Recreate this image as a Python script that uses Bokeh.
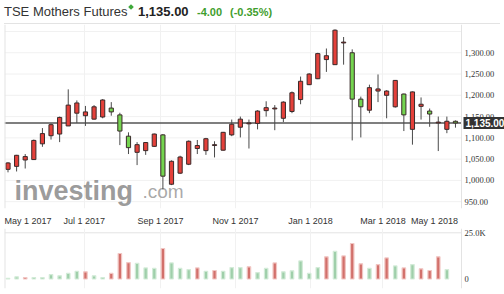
import pandas as pd
from bokeh.plotting import figure
from bokeh.layouts import column
from bokeh.models import (Range1d, FixedTicker, Span, Label, Div, ColumnDataSource)
from bokeh.embed import file_html
from bokeh.resources import INLINE

# ---------------- data ----------------
title = "TSE Mothers Futures"
last_price = "1,135.00"
last_value = 1135
change = "-4.00"
change_pct = "(-0.35%)"

week_dates = [
    "2017-04-30", "2017-05-07", "2017-05-14", "2017-05-21", "2017-05-28",
    "2017-06-04", "2017-06-11", "2017-06-18", "2017-06-25", "2017-07-02",
    "2017-07-09", "2017-07-16", "2017-07-23", "2017-07-30", "2017-08-06",
    "2017-08-13", "2017-08-20", "2017-08-27", "2017-09-03", "2017-09-10",
    "2017-09-17", "2017-09-24", "2017-10-01", "2017-10-08", "2017-10-15",
    "2017-10-22", "2017-10-29", "2017-11-05", "2017-11-12", "2017-11-19",
    "2017-11-26", "2017-12-03", "2017-12-10", "2017-12-17", "2017-12-24",
    "2017-12-31", "2018-01-07", "2018-01-14", "2018-01-21", "2018-01-28",
    "2018-02-04", "2018-02-11", "2018-02-18", "2018-02-25", "2018-03-04",
    "2018-03-11", "2018-03-18", "2018-03-25", "2018-04-01", "2018-04-08",
    "2018-04-15", "2018-04-22", "2018-04-29",
]
open_ = [1026, 1033, 1048, 1049, 1086, 1105, 1109, 1128, 1158, 1152,
         1144, 1149, 1170, 1154, 1104, 1066, 1070, 1080, 1107, 991,
         1017, 1038, 1075, 1070, 1082, 1071, 1107, 1125, 1133, 1134,
         1164, 1168, 1146, 1162, 1190, 1225, 1239, 1284, 1272, 1323,
         1300, 1191, 1165, 1210, 1200, 1173, 1203, 1120, 1174, 1163,
         1135, 1120, 1139]
high = [1043, 1060, 1062, 1096, 1123, 1134, 1150, 1214, 1188, 1175,
        1177, 1191, 1184, 1159, 1113, 1090, 1090, 1110, 1109, 1047,
        1058, 1094, 1095, 1100, 1092, 1114, 1143, 1150, 1143, 1165,
        1186, 1177, 1186, 1209, 1244, 1252, 1300, 1310, 1355, 1337,
        1308, 1197, 1225, 1249, 1212, 1236, 1204, 1209, 1195, 1169,
        1150, 1150, 1141]
low = [1019, 1021, 1028, 1048, 1079, 1096, 1090, 1128, 1135, 1128,
       1143, 1146, 1152, 1083, 1062, 1036, 1060, 1079, 979, 989,
       1015, 1036, 1062, 1060, 1054, 1070, 1104, 1101, 1075, 1120,
       1150, 1118, 1137, 1158, 1179, 1224, 1238, 1255, 1272, 1272,
       1094, 1101, 1158, 1184, 1146, 1171, 1116, 1084, 1143, 1126,
       1069, 1111, 1124]
close = [1041, 1059, 1056, 1094, 1110, 1131, 1148, 1177, 1182, 1161,
         1173, 1189, 1161, 1116, 1077, 1084, 1089, 1109, 1010, 1045,
         1055, 1092, 1082, 1098, 1084, 1113, 1132, 1144, 1135, 1163,
         1171, 1170, 1184, 1206, 1233, 1250, 1298, 1293, 1353, 1325,
         1191, 1173, 1218, 1215, 1210, 1235, 1154, 1208, 1179, 1156,
         1137, 1139, 1135]
volume = [400, 1200, 800, 800, 800, 2400, 1700, 3000, 4200, 3900,
          1700, 800, 3000, 13800, 8900, 8500, 6000, 5700, 16500, 8700,
          5700, 5100, 6000, 4200, 4600, 4200, 6200, 6200, 6600, 3500,
          5700, 8700, 3900, 4400, 9800, 3000, 6200, 12000, 15000, 12500,
          19200, 8200, 5700, 7800, 11400, 7100, 6000, 7800, 5500, 4600,
          12000, 5100, 0]

date_ticks = ["2017-05-01", "2017-07-01", "2017-09-01", "2017-11-01",
              "2018-01-01", "2018-03-01", "2018-05-01"]
date_tick_labels = ["May 1 2017", "Jul 1 2017", "Sep 1 2017", "Nov 1 2017",
                    "Jan 1 2018", "Mar 1 2018", "May 1 2018"]
price_ticks = [950, 1000, 1050, 1100, 1150, 1200, 1250, 1300]
price_grid = [950, 1000, 1050, 1100, 1150, 1200, 1250, 1300, 1350]
volume_ticks = [0, 25000]
volume_tick_labels = ["0", "25.0K"]

# ---------------- styling / layout ----------------
FONT = "Liberation Sans"
UP = "#e4403a"
DOWN = "#74d44f"
VOL_UP = "#9fcfaa"
VOL_UP_EDGE = "#d3ebd8"
VOL_DN = "#d2706b"
VOL_DN_EDGE = "#f1c6c3"
GRID = "#f1f1f1"
BORDER = "#e3e3e3"

W = 504
HEADER_H, PRICE_H, VOL_H = 24, 204, 66
LEFT = 4
FRAME_W = 457          # candle area width in px (4 .. 461)
SIDE_W = 43            # price-scale strip on the right
DATE_LABEL_W = 47      # approx width of a date label in px


def ms(d):
    return pd.Timestamp(d).value // 10**6


dates = [pd.Timestamp(d) for d in week_dates]
DAY = 86400000
x_start_ms = ms("2017-04-27 03:36")
x_end_ms = ms("2018-05-03 21:36")            # right edge of candle area
px_ms = FRAME_W / (x_end_ms - x_start_ms)
x_full_end = x_start_ms + (FRAME_W + SIDE_W) / px_ms
x_range = Range1d(x_start_ms, x_full_end)
y_lo, y_hi = 934, 1366.4

# tick-label positions: labels are kept inside the candle area, as in the original
label_pos = []
for d in date_ticks:
    t = ms(d)
    half = (DATE_LABEL_W / 2) / px_ms
    t = max(t, x_start_ms + half)
    if t + half > x_end_ms - 2 / px_ms:
        t = ms(d) - half
    label_pos.append(int(t))
grid_dates = [ms(d) for d in date_ticks[1:-1]]

src = ColumnDataSource(dict(
    date=dates, open=open_, high=high, low=low, close=close,
    top=[max(o, c) for o, c in zip(open_, close)],
    bottom=[min(o, c) for o, c in zip(open_, close)],
    color=[UP if c >= o else DOWN for o, c in zip(open_, close)],
))

vol_colors, vol_edges = [], []
for i, c in enumerate(close):
    up = True if i == 0 else c >= close[i - 1]
    vol_colors.append(VOL_UP if up else VOL_DN)
    vol_edges.append(VOL_UP_EDGE if up else VOL_DN_EDGE)
keep = [i for i, v in enumerate(volume) if v > 0]
vsrc = ColumnDataSource(dict(
    date=[dates[i] for i in keep], vol=[volume[i] for i in keep],
    color=[vol_colors[i] for i in keep], edge=[vol_edges[i] for i in keep],
))

# ---------------- header ----------------
header = Div(
    width=W, height=HEADER_H, margin=(0, 0, 0, 0),
    text=(
        f'<div style="position:relative;width:504px;height:24px;font-family:\'{FONT}\',Arial,sans-serif;">'
        f'<span style="position:absolute;left:4px;top:4px;font-size:13px;line-height:15px;color:#333;white-space:nowrap;">{title}</span>'
        '<span style="position:absolute;left:129px;top:5px;width:4px;height:4px;background:#3ea83a;transform:rotate(45deg);"></span>'
        f'<span style="position:absolute;left:138px;top:4px;font-size:13px;line-height:15px;font-weight:bold;color:#222;white-space:nowrap;">{last_price}</span>'
        f'<span style="position:absolute;left:197px;top:5px;font-size:11px;line-height:15px;font-weight:bold;color:#3f9e2d;white-space:nowrap;">{change}</span>'
        f'<span style="position:absolute;left:230px;top:5px;font-size:11px;line-height:15px;font-weight:bold;color:#3f9e2d;white-space:nowrap;">{change_pct}</span>'
        '<span style="position:absolute;left:4px;top:23px;width:496px;height:1px;background:#e3e3e3;"></span>'
        '</div>'
    ),
)

# ---------------- price pane (candles + price scale strip) ----------------
pA = figure(width=W, height=PRICE_H, x_range=x_range, y_range=Range1d(y_lo, y_hi),
            x_axis_type="datetime", y_axis_location=None,
            output_backend="svg", toolbar_location=None,
            min_border_left=LEFT, min_border_right=0, min_border_top=0, min_border_bottom=12)
pA.outline_line_color = None
pA.background_fill_color = "white"
pA.border_fill_color = "white"

pA.xgrid.ticker = FixedTicker(ticks=grid_dates)
pA.xgrid.grid_line_color = GRID
pA.ygrid.visible = False
# horizontal grid lines only across the candle area
pA.segment(x0=[x_start_ms] * len(price_grid), x1=[x_end_ms] * len(price_grid),
           y0=price_grid, y1=price_grid, line_color=GRID, line_width=1, level="underlay")

# pane borders
pA.add_layout(Span(location=x_start_ms, dimension="height", line_color=BORDER, line_width=2))
pA.add_layout(Span(location=x_end_ms, dimension="height", line_color=BORDER, line_width=1))

xa = pA.xaxis[0]
xa.ticker = FixedTicker(ticks=label_pos)
xa.major_label_overrides = {p: t for p, t in zip(label_pos, date_tick_labels)}
xa.axis_line_color = None
xa.major_tick_line_color = None
xa.minor_tick_line_color = None
xa.major_label_standoff = 1
xa.major_label_text_font = FONT
xa.major_label_text_font_size = "9px"
xa.major_label_text_color = "#333"

# watermark
pA.add_layout(Label(x=x_start_ms, y=y_lo, x_offset=10, y_offset=17.5, text="investing",
                    text_font=FONT, text_font_size="27px", text_font_style="bold",
                    text_color="#8a8a8a", text_alpha=0.85, text_baseline="alphabetic",
                    level="underlay"))
pA.add_layout(Label(x=x_start_ms, y=y_lo, x_offset=138, y_offset=17.5, text=".com",
                    text_font=FONT, text_font_size="19px",
                    text_color="#9a9a9a", text_alpha=0.85, text_baseline="alphabetic",
                    level="underlay"))

# last-price line
pA.segment(x0=[x_start_ms], x1=[x_end_ms], y0=[last_value], y1=[last_value],
           line_color="#555555", line_width=1.5)

pA.segment(x0="date", y0="high", x1="date", y1="low", source=src,
           line_color="#4a4a4a", line_width=1)
pA.vbar(x="date", width=3.4 * DAY, top="top", bottom="bottom", source=src,
        fill_color="color", line_color="#3a2a2a", line_width=1)

# price scale labels (right strip)
pA.text(x=[x_end_ms] * len(price_ticks), y=price_ticks,
        text=[f"{v:,.2f}" for v in price_ticks], x_offset=3,
        text_font=FONT, text_font_size="8.5px", text_color="#333",
        text_align="left", text_baseline="middle")
pA.add_layout(Label(x=x_end_ms, y=last_value, x_offset=2, text=last_price,
                    text_font=FONT, text_font_size="10px", text_font_style="bold",
                    text_color="white", text_align="left", text_baseline="middle",
                    background_fill_color="#333333", padding=2))

# ---------------- volume pane ----------------
pB = figure(width=W, height=VOL_H, x_range=x_range, y_range=Range1d(-5140, 27326),
            x_axis_type="datetime", x_axis_location=None, y_axis_location=None,
            output_backend="svg", toolbar_location=None,
            min_border_left=LEFT, min_border_right=0, min_border_top=0, min_border_bottom=6)
pB.outline_line_color = None
pB.xgrid.ticker = FixedTicker(ticks=grid_dates)
pB.xgrid.grid_line_color = GRID
pB.ygrid.visible = False
pB.segment(x0=[x_start_ms, x_start_ms], x1=[x_end_ms, x_end_ms],
           y0=volume_ticks, y1=volume_ticks, line_color=[None, BORDER], line_width=1,
           level="underlay")
pB.add_layout(Span(location=x_start_ms, dimension="height", line_color=BORDER, line_width=2))
pB.add_layout(Span(location=x_end_ms, dimension="height", line_color=BORDER, line_width=1))

pB.vbar(x="date", width=2.8 * DAY, top="vol", bottom=0, source=vsrc,
        fill_color="color", line_color="edge", line_width=1.2)

pB.text(x=[x_end_ms] * len(volume_ticks), y=volume_ticks, text=volume_tick_labels,
        x_offset=3, text_font=FONT, text_font_size="8.5px", text_color="#333",
        text_align="left", text_baseline="middle")

layout = column(header, pA, pB, spacing=0)
open("out.html", "w").write(file_html(layout, INLINE))
